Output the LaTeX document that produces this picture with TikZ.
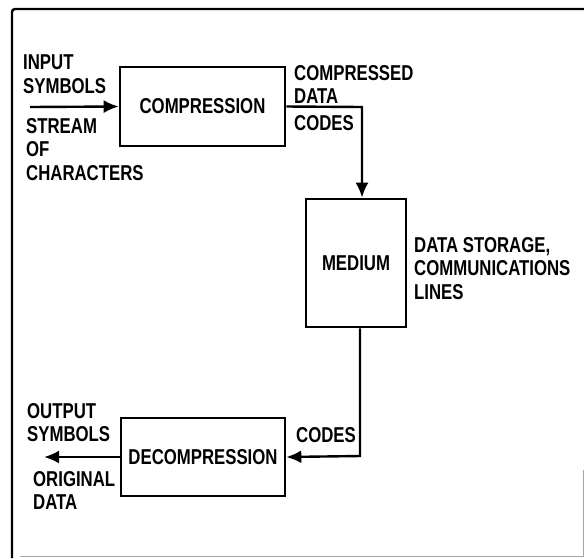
\documentclass[tikz,border=0pt]{standalone}
\usepackage{fontspec}
\setmainfont{Liberation Sans}[FakeStretch=0.78]
\usetikzlibrary{arrows.meta}

\begin{document}
\begin{tikzpicture}[x=1pt, y=-1pt,
    every node/.style={font=\bfseries\fontsize{21.5}{23.5}\selectfont},
    block/.style={draw, line width=2.6pt, inner sep=0pt},
    lbl/.style={anchor=north west, inner sep=0pt, align=left},
    flow/.style={line width=2.4pt, -{Latex[length=15pt, width=13pt]}}]
  \useasboundingbox (0,0) rectangle (584,558);
  \draw [line width=2.4pt, rounded corners=3pt] (12,558) -- (12,9) -- (584,9);
  \draw [line width=1pt, black!35] (20,556) -- (583,556) -- (583,470);

  \node [block, minimum width=165pt, minimum height=79pt] (comp) at (202.5,106.5) {COMPRESSION};
  \node [block, minimum width=100pt, minimum height=128pt] (med) at (356,263) {MEDIUM};
  \node [block, minimum width=164pt, minimum height=78pt] (decomp) at (203,457) {DECOMPRESSION};

  \coordinate (inp) at (30,107);
  \coordinate (turn) at (362,107);
  \coordinate (down) at (360,456);
  \coordinate (out) at (44,457);

  \draw [flow] (inp) -- (comp.west);
  \draw [flow] (comp.east) -- (turn) -- (turn |- med.north);
  \draw [flow] (down |- med.south) -- (down) -- (decomp.east);
  \draw [flow] (decomp.west) -- (out);

  \node [lbl] (insym) at (23,55) {INPUT\\SYMBOLS};
  \node [lbl] (stream) at (26,118) {STREAM\\OF\\CHARACTERS};
  \node [lbl] (cdata) at (294,65) {COMPRESSED\\DATA};
  \node [lbl] (codes1) at (294,115) {CODES};
  \node [lbl] (store) at (414,237) {DATA STORAGE,\\COMMUNICATIONS\\LINES};
  \node [lbl] (codes2) at (296,427) {CODES};
  \node [lbl] (outsym) at (27,403) {OUTPUT\\SYMBOLS};
  \node [lbl] (orig) at (33,471) {ORIGINAL\\DATA};
\end{tikzpicture}
\end{document}
